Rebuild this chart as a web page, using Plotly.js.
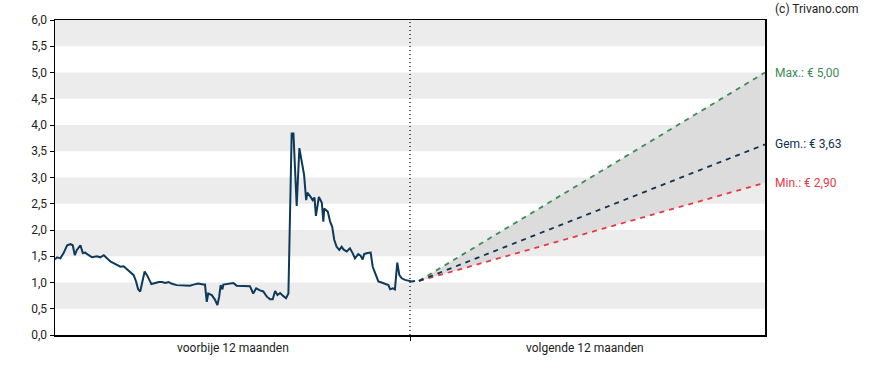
<!DOCTYPE html>
<html>
<head>
<meta charset="utf-8">
<script src="https://cdn.plot.ly/plotly-3.0.1.min.js"></script>
<style>html,body{margin:0;padding:0;background:#fff;}#chart{width:888px;height:370px;}</style>
</head>
<body>
<div id="chart"></div>
<script>
// Past 12 months (x in months from start), price in EUR
const pastMonths = [0.00,0.07,0.18,0.29,0.41,0.52,0.60,0.67,0.74,0.86,0.94,1.02,1.14,1.25,1.42,1.53,1.65,1.76,1.87,1.98,2.10,2.21,2.32,2.40,2.49,2.58,2.66,2.74,2.81,2.88,2.96,3.03,3.11,3.19,3.26,3.39,3.51,3.62,3.73,3.84,3.93,4.11,4.34,4.56,4.68,4.84,5.01,5.07,5.13,5.18,5.30,5.41,5.49,5.55,5.60,5.66,5.69,5.86,6.03,6.14,6.31,6.59,6.70,6.80,6.93,7.04,7.16,7.27,7.36,7.44,7.52,7.61,7.72,7.81,7.89,8.00,8.06,8.17,8.26,8.34,8.42,8.49,8.53,8.64,8.71,8.77,8.82,8.92,9.02,9.07,9.10,9.22,9.30,9.37,9.44,9.52,9.61,9.69,9.75,9.86,9.97,10.06,10.14,10.25,10.33,10.40,10.45,10.56,10.67,10.74,10.85,10.93,11.04,11.16,11.27,11.33,11.42,11.49,11.57,11.64,11.72,11.83,11.94,12.06,12.17];
const pastPrices = [1.44,1.48,1.46,1.56,1.71,1.73,1.71,1.52,1.62,1.71,1.56,1.57,1.52,1.48,1.50,1.48,1.52,1.46,1.40,1.37,1.33,1.30,1.31,1.27,1.24,1.19,1.14,1.02,0.87,0.83,1.05,1.21,1.14,1.05,0.97,0.99,1.01,1.01,0.99,1.01,0.98,0.95,0.95,0.94,0.96,0.98,0.96,0.96,0.63,0.79,0.76,0.67,0.57,0.73,0.95,0.87,0.96,0.98,0.99,0.94,0.94,0.93,0.79,0.89,0.85,0.83,0.73,0.68,0.68,0.84,0.76,0.80,0.74,0.70,0.79,3.84,3.84,2.46,3.56,3.27,3.05,2.57,2.71,2.63,2.57,2.62,2.27,2.63,2.52,2.16,2.41,2.35,2.16,2.06,1.81,1.68,1.62,1.68,1.63,1.59,1.65,1.56,1.46,1.54,1.51,1.44,1.54,1.56,1.57,1.30,1.14,1.02,1.00,0.97,0.95,0.87,0.89,0.87,1.38,1.14,1.08,1.05,1.04,1.02,1.03];

// Forecast (next 12 months)
const forecastMonths = [12.3, 24];
const forecastStart = 1.03;
const targetMax = 5.00;
const targetAvg = 3.63;
const targetMin = 2.90;

const labelPast = "voorbije 12 maanden";
const labelNext = "volgende 12 maanden";
const copyright = "(c) Trivano.com";

const cGreen = "#3b8c55", cNavy = "#0e3352", cRed = "#e63946";

const fmt = v => v.toFixed(2).replace('.', ',');

const traces = [
  {x: forecastMonths, y: [forecastStart, targetMin], mode: 'lines', line: {color: cRed, width: 1.8, dash: '5px,5px'}, hoverinfo: 'skip'},
  {x: forecastMonths, y: [forecastStart, targetMax], mode: 'lines', line: {color: cGreen, width: 1.8, dash: '5px,5px'}, fill: 'tonexty', fillcolor: '#dcdcdc', hoverinfo: 'skip'},
  {x: forecastMonths, y: [forecastStart, targetAvg], mode: 'lines', line: {color: cNavy, width: 1.8, dash: '5px,5px'}, hoverinfo: 'skip'},
  {x: pastMonths, y: pastPrices, mode: 'lines', line: {color: '#0d3a5a', width: 2}, hoverinfo: 'skip'}
];

const shapes = [];
for (let b = 0.5; b < 6; b += 1.0) {
  shapes.push({type: 'rect', xref: 'paper', yref: 'y', x0: 0, x1: 1, y0: b, y1: b + 0.5, fillcolor: '#ececec', line: {width: 0}, layer: 'below'});
}
shapes.push({type: 'line', xref: 'x', yref: 'paper', x0: 12, x1: 12, y0: 0, y1: 1, line: {color: '#000', width: 1.2, dash: '1px,3px'}});

const annotations = [
  {xref: 'x', yref: 'paper', x: 6, y: 0, yanchor: 'top', yshift: -4, text: labelPast, showarrow: false, font: {size: 12, color: '#222'}},
  {xref: 'x', yref: 'paper', x: 17.9, y: 0, yanchor: 'top', yshift: -4, text: labelNext, showarrow: false, font: {size: 12, color: '#222'}},
  {xref: 'paper', yref: 'y', x: 1, xshift: 8, y: targetMax, xanchor: 'left', text: 'Max.: € ' + fmt(targetMax), showarrow: false, font: {size: 12, color: cGreen}},
  {xref: 'paper', yref: 'y', x: 1, xshift: 8, y: targetAvg, xanchor: 'left', text: 'Gem.: € ' + fmt(targetAvg), showarrow: false, font: {size: 12, color: cNavy}},
  {xref: 'paper', yref: 'y', x: 1, xshift: 8, y: targetMin, xanchor: 'left', text: 'Min.: € ' + fmt(targetMin), showarrow: false, font: {size: 12, color: cRed}},
  {xref: 'paper', yref: 'paper', x: 1, xshift: 8, y: 1, yshift: 11, xanchor: 'left', yanchor: 'middle', text: copyright, showarrow: false, font: {size: 12, color: '#222'}}
];

const layout = {
  width: 888, height: 370,
  margin: {l: 55, r: 123, t: 20, b: 35},
  paper_bgcolor: '#fff', plot_bgcolor: '#fff',
  showlegend: false,
  separators: ',.',
  font: {family: 'Roboto, Arial, sans-serif', size: 12, color: '#222'},
  xaxis: {range: [0, 24], showgrid: false, zeroline: false, showline: true, linecolor: '#000', linewidth: 1.5, mirror: true,
          tickvals: [12], ticktext: [''], ticks: 'outside', ticklen: 4, tickcolor: '#000'},
  yaxis: {range: [0, 6], dtick: 0.5, tick0: 0, tickformat: '.1f', showgrid: false, zeroline: false, showline: true, linecolor: '#000', linewidth: 1.5, mirror: true,
          ticks: 'outside', ticklen: 4, tickcolor: '#000', tickfont: {size: 12, color: '#222'}},
  shapes: shapes,
  annotations: annotations
};

Plotly.newPlot('chart', traces, layout, {displayModeBar: false, staticPlot: true});
</script>
</body>
</html>
